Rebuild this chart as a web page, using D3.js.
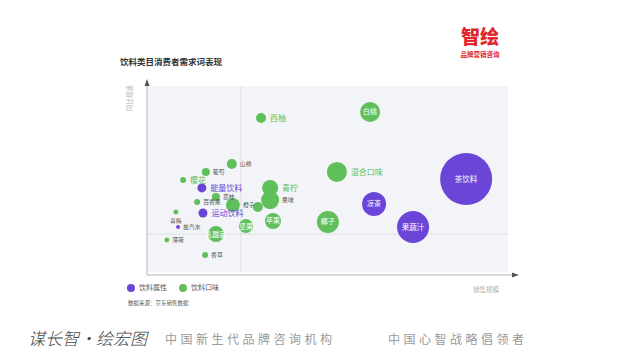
<!DOCTYPE html>
<html>
<head>
<meta charset="utf-8">
<script src="https://cdn.jsdelivr.net/npm/d3@7"></script>
<style>
body { margin:0; background:#fff; }
text { font-family:"Noto Sans CJK SC","Noto Sans",sans-serif; }
</style>
</head>
<body>
<script>
// data: x = 销售规模, y = 同比增速, size = bubble size
var names  = ["西柚","白桃","山楂","葡萄","樱花","能量饮料","青柠","果味","荔枝","百香果","橙子","","运动饮料","青梅","盐汽水","薄荷","乳酸菌","香草","坚果","苹果","混合口味","凉茶","椰子","果蔬汁","茶饮料"];
var groups = ["口味","口味","口味","口味","口味","属性","口味","口味","口味","口味","口味","口味","属性","口味","属性","口味","口味","口味","口味","口味","口味","属性","口味","属性","属性"];
var xVals  = [31.6,61.8,23.5,16.3,10.0,15.2,34.1,34.1,19.1,13.9,23.8,30.7,15.5,8.0,8.6,5.5,19.1,16.1,27.4,34.9,52.6,62.9,50.1,73.7,88.4];
var yVals  = [82.8,86.0,58.1,53.8,49.5,45.2,45.2,38.7,40.3,37.6,36.0,34.9,31.7,32.3,24.2,17.2,20.4,9.1,24.7,27.4,53.8,36.6,26.9,24.2,50.0];
var sizes  = [3.7,14.8,3.7,2.4,1.3,3.0,9.5,12.0,2.4,1.3,7.2,3.7,3.0,0.9,0.6,0.9,9.5,1.3,7.2,9.5,14.8,21.3,17.9,37.9,100];
var labelPos = ["big","in","small","small","big","big","big","small","small","small","small","none","big","below","small","small","in","small","in","in","big","in","in","in","in"];
var xMid = 26.0, yMid = 20.4;
var legendNames = ["饮料属性","饮料口味"];

var width = 640, height = 360;
var green = "#5fbf5b", purple = "#6b45d7";
var colorOf = function(g){ return g == "属性" ? purple : green; };

var svg = d3.select("body").append("svg")
  .attr("width", width)
  .attr("height", height);

var plot = {left:147, right:508, top:86, bottom:272};

var x = d3.scaleLinear().domain([0,100]).range([plot.left, plot.right]);
var y = d3.scaleLinear().domain([0,100]).range([plot.bottom, plot.top]);
var r = d3.scaleSqrt().domain([0,100]).range([0,26]);

// logo
svg.append("text").text("智绘")
  .attr("x", 480).attr("y", 44)
  .attr("text-anchor","middle")
  .attr("font-size", 19).attr("font-weight", 900)
  .attr("fill", "#e0262b");
svg.append("text").text("品牌营销咨询")
  .attr("x", 480).attr("y", 57)
  .attr("text-anchor","middle")
  .attr("font-size", 6.5).attr("font-weight", 700)
  .attr("fill", "#e0262b");

// title
svg.append("text").text("饮料类目消费者需求词表现")
  .attr("x", 120).attr("y", 65)
  .attr("font-size", 8.5).attr("font-weight", 700)
  .attr("fill", "#333");

// plot background
svg.append("rect")
  .attr("x", plot.left).attr("y", plot.top)
  .attr("width", plot.right - plot.left)
  .attr("height", plot.bottom - plot.top)
  .attr("fill", "#f3f4f7");

// quadrant lines
svg.append("line")
  .attr("x1", x(xMid)).attr("x2", x(xMid))
  .attr("y1", plot.top).attr("y2", plot.bottom)
  .attr("stroke", "#d9dbe0").attr("stroke-width", 0.8);
svg.append("line")
  .attr("x1", plot.left).attr("x2", plot.right)
  .attr("y1", y(yMid)).attr("y2", y(yMid))
  .attr("stroke", "#d9dbe0").attr("stroke-width", 0.8);

// axes with arrows
svg.append("line")
  .attr("x1", plot.left).attr("x2", plot.left)
  .attr("y1", 275).attr("y2", 84)
  .attr("stroke", "#b0b2b8").attr("stroke-width", 1);
svg.append("path")
  .attr("d", "M"+(plot.left-2.5)+",86 L"+plot.left+",79 L"+(plot.left+2.5)+",86 Z")
  .attr("fill", "#555");
svg.append("line")
  .attr("x1", plot.left).attr("x2", 514)
  .attr("y1", 275).attr("y2", 275)
  .attr("stroke", "#b0b2b8").attr("stroke-width", 1);
svg.append("path")
  .attr("d", "M512,272.5 L519,275 L512,277.5 Z")
  .attr("fill", "#555");

svg.append("text").text("同比增速")
  .attr("transform", "translate(132,98) rotate(-90)")
  .attr("text-anchor","middle")
  .attr("font-size", 6.5)
  .attr("fill", "#b8b8b8");
svg.append("text").text("销售规模")
  .attr("x", 486).attr("y", 292)
  .attr("text-anchor","middle")
  .attr("font-size", 6.5)
  .attr("fill", "#b0b0b0");

// bubbles
var data = names.map(function(n,i){
  return {name:n, group:groups[i], x:xVals[i], y:yVals[i], size:sizes[i], pos:labelPos[i]};
});

svg.selectAll("circle.bubble")
  .data(data)
  .enter()
  .append("circle")
  .attr("class","bubble")
  .attr("cx", function(d){ return x(d.x); })
  .attr("cy", function(d){ return y(d.y); })
  .attr("r", function(d){ return r(d.size); })
  .attr("fill", function(d){ return colorOf(d.group); });

svg.selectAll("text.lbl")
  .data(data.filter(function(d){ return d.pos != "none"; }))
  .enter()
  .append("text")
  .attr("class","lbl")
  .text(function(d){ return d.name; })
  .attr("x", function(d){
    if (d.pos == "in" || d.pos == "below") return x(d.x);
    return x(d.x) + r(d.size) + (d.pos == "big" ? 4 : 3);
  })
  .attr("y", function(d){
    if (d.pos == "below") return y(d.y) + r(d.size) + 7;
    return y(d.y);
  })
  .attr("dy", "0.35em")
  .attr("text-anchor", function(d){ return (d.pos == "in" || d.pos == "below") ? "middle" : "start"; })
  .attr("font-size", function(d){
    if (d.pos == "big") return 8;
    if (d.pos == "in") return d.size > 30 ? 7.5 : 7;
    return 5.8;
  })
  .attr("fill", function(d){
    if (d.pos == "in") return "#fff";
    if (d.pos == "big") return colorOf(d.group);
    return "#555";
  });

// legend
legendNames.forEach(function(n,i){
  var lx = 131 + i*52;
  svg.append("circle")
    .attr("cx", lx).attr("cy", 288).attr("r", 4)
    .attr("fill", i == 0 ? purple : green);
  svg.append("text").text(n)
    .attr("x", lx + 8).attr("y", 288).attr("dy","0.35em")
    .attr("font-size", 7).attr("fill", "#555");
});

svg.append("text").text("数据来源：京东销售数据")
  .attr("x", 128).attr("y", 305)
  .attr("font-size", 5.5).attr("fill", "#555");

// footer
svg.append("text").text("谋长智·绘宏图")
  .attr("x", 28).attr("y", 345)
  .attr("font-size", 17).attr("font-style","italic").attr("font-weight", 300)
  .attr("fill", "#444");
svg.append("text").text("中国新生代品牌咨询机构")
  .attr("x", 165).attr("y", 344)
  .attr("font-size", 12).attr("letter-spacing", 3.5)
  .attr("fill", "#999");
svg.append("text").text("中国心智战略倡领者")
  .attr("x", 388).attr("y", 344)
  .attr("font-size", 12).attr("letter-spacing", 3.5)
  .attr("fill", "#999");
</script>
</body>
</html>
